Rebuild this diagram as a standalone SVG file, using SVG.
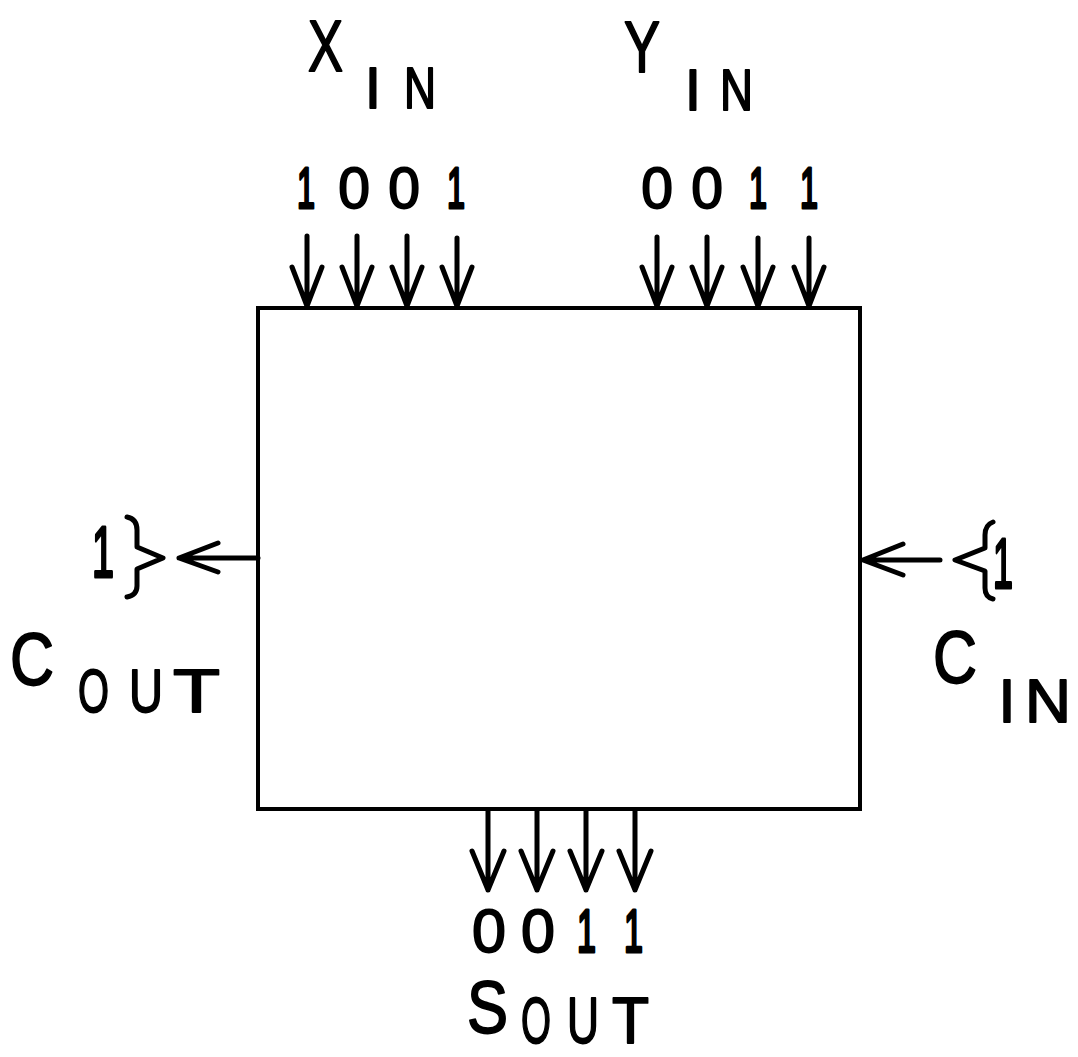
<svg xmlns="http://www.w3.org/2000/svg" width="1078" height="1057" viewBox="0 0 1078 1057">
<style>
.t{font-family:"Liberation Sans",Arial,sans-serif;fill:#000;stroke:#000;stroke-width:1.8;stroke-linejoin:round}
.one{stroke-width:3.2}
.ar{fill:none;stroke:#000;stroke-width:5;stroke-linecap:round;stroke-linejoin:round}
</style>
<rect width="1078" height="1057" fill="#fff"/>
<g id="adder">
<rect x="258" y="308" width="602" height="501" fill="none" stroke="#000" stroke-width="4"/>
</g>
<g id="connectors" class="ar">
<path d="M307,236 V306 M292,267 L307,306 L322,267"/>
<path d="M357,236 V306 M342,267 L357,306 L372,267"/>
<path d="M407,236 V306 M392,267 L407,306 L422,267"/>
<path d="M457,238 V306 M442,267 L457,306 L472,267"/>
<path d="M657,237 V306 M642,267 L657,306 L672,267"/>
<path d="M707,237 V306 M692,267 L707,306 L722,267"/>
<path d="M758,238 V306 M743,267 L758,306 L773,267"/>
<path d="M809,238 V306 M794,267 L809,306 L824,267"/>
<path d="M488,810 V890 M472,851 L488,890 L504,851"/>
<path d="M537,810 V890 M521,851 L537,890 L553,851"/>
<path d="M586,810 V890 M570,851 L586,890 L602,851"/>
<path d="M635,810 V890 M619,851 L635,890 L651,851"/>
<path d="M258,558 H179 M218,543 L179,558 L218,572"/>
<path d="M940,560 H863 M903,544 L863,560 L903,575"/>
</g>
<g id="x-in">
<text class="t" x="308" y="71" font-size="72" textLength="35" lengthAdjust="spacingAndGlyphs">X</text>
<text class="t" x="373" y="108" font-size="57" text-anchor="middle">I</text>
<text class="t" x="404" y="108" font-size="57" textLength="32" lengthAdjust="spacingAndGlyphs">N</text>
<text class="t one" x="297" y="208" font-size="57" textLength="18" lengthAdjust="spacingAndGlyphs">1</text>
<text class="t" x="354" y="208" font-size="57" text-anchor="middle">0</text>
<text class="t" x="404" y="208" font-size="57" text-anchor="middle">0</text>
<text class="t one" x="447" y="208" font-size="57" textLength="18" lengthAdjust="spacingAndGlyphs">1</text>
</g>
<g id="y-in">
<text class="t" x="624" y="72" font-size="72" textLength="36" lengthAdjust="spacingAndGlyphs">Y</text>
<text class="t" x="693" y="110" font-size="57" text-anchor="middle">I</text>
<text class="t" x="720" y="110" font-size="57" textLength="33" lengthAdjust="spacingAndGlyphs">N</text>
<text class="t" x="657" y="208" font-size="57" text-anchor="middle">0</text>
<text class="t" x="707" y="208" font-size="57" text-anchor="middle">0</text>
<text class="t one" x="749" y="208" font-size="57" textLength="18" lengthAdjust="spacingAndGlyphs">1</text>
<text class="t one" x="800" y="208" font-size="57" textLength="18" lengthAdjust="spacingAndGlyphs">1</text>
</g>
<g id="c-out">
<text class="t one" x="92" y="577" font-size="72" textLength="22" lengthAdjust="spacingAndGlyphs">1</text>
<path class="ar" d="M127,517 Q137,519 137,530 L137,547 L163,558 L137,569 L137,586 Q137,595 127,597"/>
<text class="t" x="10" y="685" font-size="74" textLength="44" lengthAdjust="spacingAndGlyphs">C</text>
<text class="t" x="78" y="712" font-size="61" textLength="31" lengthAdjust="spacingAndGlyphs">O</text>
<text class="t" x="129" y="712" font-size="61" textLength="34" lengthAdjust="spacingAndGlyphs">U</text>
<text class="t" x="173" y="712" font-size="61" textLength="47" lengthAdjust="spacingAndGlyphs">T</text>
</g>
<g id="c-in">
<path class="ar" d="M993,522 Q985,525 985,535 L985,548 L955,560 L985,571 L985,588 Q985,597 993,599"/>
<text class="t one" x="993" y="588" font-size="71" textLength="20" lengthAdjust="spacingAndGlyphs">1</text>
<text class="t" x="933" y="683" font-size="74" textLength="44" lengthAdjust="spacingAndGlyphs">C</text>
<text class="t" x="1007" y="722" font-size="61" text-anchor="middle">I</text>
<text class="t" x="1025" y="722" font-size="61" textLength="46" lengthAdjust="spacingAndGlyphs">N</text>
</g>
<g id="s-out">
<text class="t" x="489" y="952" font-size="61" text-anchor="middle">0</text>
<text class="t" x="538" y="952" font-size="61" text-anchor="middle">0</text>
<text class="t one" x="577" y="952" font-size="61" textLength="19" lengthAdjust="spacingAndGlyphs">1</text>
<text class="t one" x="624" y="952" font-size="61" textLength="19" lengthAdjust="spacingAndGlyphs">1</text>
<text class="t" x="467" y="1033" font-size="74" textLength="41" lengthAdjust="spacingAndGlyphs">S</text>
<text class="t" x="521" y="1043" font-size="64" textLength="30" lengthAdjust="spacingAndGlyphs">O</text>
<text class="t" x="567" y="1043" font-size="64" textLength="32" lengthAdjust="spacingAndGlyphs">U</text>
<text class="t" x="612" y="1043" font-size="64" textLength="37" lengthAdjust="spacingAndGlyphs">T</text>
</g>
</svg>
